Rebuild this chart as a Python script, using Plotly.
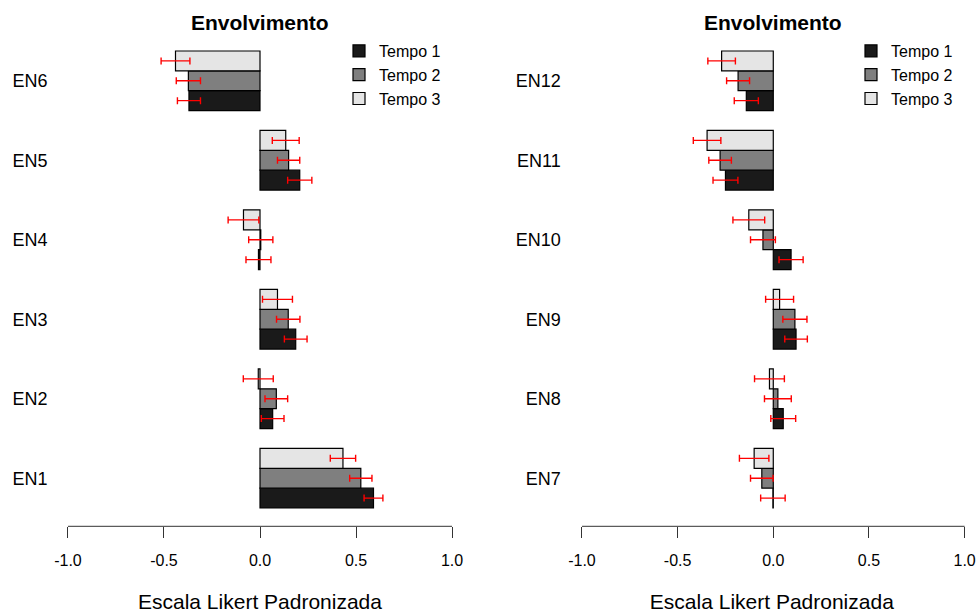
import plotly.graph_objects as go

# ---- data ----
cats_left = ["EN1", "EN2", "EN3", "EN4", "EN5", "EN6"]
cats_right = ["EN7", "EN8", "EN9", "EN10", "EN11", "EN12"]
series_names = ["Tempo 1", "Tempo 2", "Tempo 3"]

left_t1 = [0.591, 0.066, 0.186, -0.008, 0.207, -0.370]
left_t2 = [0.525, 0.085, 0.147, 0.004, 0.149, -0.373]
left_t3 = [0.432, -0.009, 0.091, -0.086, 0.134, -0.440]
left_e1 = [0.049, 0.059, 0.059, 0.065, 0.063, 0.060]
left_e2 = [0.058, 0.059, 0.061, 0.063, 0.058, 0.063]
left_e3 = [0.066, 0.078, 0.078, 0.080, 0.070, 0.075]

right_t1 = [-0.002, 0.052, 0.119, 0.093, -0.250, -0.141]
right_t2 = [-0.060, 0.024, 0.113, -0.054, -0.278, -0.184]
right_t3 = [-0.100, -0.020, 0.033, -0.128, -0.346, -0.270]
right_e1 = [0.064, 0.065, 0.059, 0.063, 0.065, 0.063]
right_e2 = [0.059, 0.070, 0.063, 0.065, 0.059, 0.060]
right_e3 = [0.077, 0.078, 0.073, 0.083, 0.072, 0.072]

colors = ["#1a1a1a", "#7f7f7f", "#e5e5e5"]
FONT = "Liberation Sans, Arial, Helvetica, sans-serif"

fig = go.Figure()

panels = [
    (cats_left, [left_t1, left_t2, left_t3], [left_e1, left_e2, left_e3], "x", "y", "legend"),
    (cats_right, [right_t1, right_t2, right_t3], [right_e1, right_e2, right_e3], "x2", "y2", "legend2"),
]
for cats, vals, errs, xa, ya, lg in panels:
    for name, v, e, c in zip(series_names, vals, errs, colors):
        fig.add_trace(go.Bar(
            y=cats, x=v, orientation="h", name=name,
            marker=dict(color=c, line=dict(color="black", width=1.2)),
            error_x=dict(type="data", array=e, visible=True, color="#ff0000",
                         thickness=1.4, width=3.5),
            xaxis=xa, yaxis=ya, legend=lg,
        ))

W, H = 978, 613
axis_common = dict(showgrid=False, zeroline=False, showline=False, automargin=False,
                   ticks="outside", ticklen=11, tickwidth=1, tickcolor="#333333",
                   tickvals=[-1, -0.5, 0, 0.5, 1], ticktext=["-1.0", "-0.5", "0.0", "0.5", "1.0"],
                   tickfont=dict(family=FONT, size=16, color="black"),
                   ticklabelstandoff=8,
                   title=dict(text="Escala Likert Padronizada",
                              font=dict(family=FONT, size=21, color="black"), standoff=26))
yaxis_common = dict(showgrid=False, zeroline=False, showline=False, ticks="", automargin=False,
                    tickfont=dict(family=FONT, size=18, color="black"),
                    range=[-0.605, 5.605], ticklabelstandoff=4)

ydom = [1 - 526.3 / H, 1 - 32.7 / H]
fig.update_layout(
    width=W, height=H,
    margin=dict(l=0, r=0, t=0, b=0, autoexpand=False),
    paper_bgcolor="white", plot_bgcolor="white",
    barmode="group", bargap=0.25, bargroupgap=0,
    xaxis=dict(axis_common, domain=[52.6 / W, 467.4 / W], range=[-1.08, 1.08], anchor="y"),
    xaxis2=dict(axis_common, domain=[565.7 / W, 1.0], range=[-1.085, 1.07], anchor="y2"),
    yaxis=dict(yaxis_common, domain=ydom, anchor="x",
               categoryorder="array", categoryarray=cats_left),
    yaxis2=dict(yaxis_common, domain=ydom, anchor="x2",
                categoryorder="array", categoryarray=cats_right),
    legend=dict(x=339 / W, y=1 - 34 / H, xanchor="left", yanchor="top",
                font=dict(family=FONT, size=16, color="black"), bgcolor="rgba(0,0,0,0)",
                traceorder="normal", tracegroupgap=0),
    legend2=dict(x=851 / W, y=1 - 34 / H, xanchor="left", yanchor="top",
                 font=dict(family=FONT, size=16, color="black"), bgcolor="rgba(0,0,0,0)",
                 traceorder="normal", tracegroupgap=0),
    annotations=[
        dict(text="<b>Envolvimento</b>", xref="x domain", yref="paper", x=0.5, y=1 - 23 / H,
             xanchor="center", yanchor="middle", showarrow=False,
             font=dict(family=FONT, size=21, color="black")),
        dict(text="<b>Envolvimento</b>", xref="x2 domain", yref="paper",
             x=(773.3 - 565.7) / (978 - 565.7), y=1 - 23 / H,
             xanchor="center", yanchor="middle", showarrow=False,
             font=dict(family=FONT, size=21, color="black")),
    ],
    shapes=[
        dict(type="line", xref="x", yref="y domain", x0=-1, x1=1, y0=0, y1=0,
             line=dict(color="#333333", width=1)),
        dict(type="line", xref="x2", yref="y2 domain", x0=-1, x1=1, y0=0, y1=0,
             line=dict(color="#333333", width=1)),
    ],
)

fig.write_html("out.html", config={"displayModeBar": False},
               post_script="document.body.style.margin='0';document.body.style.padding='0';")
